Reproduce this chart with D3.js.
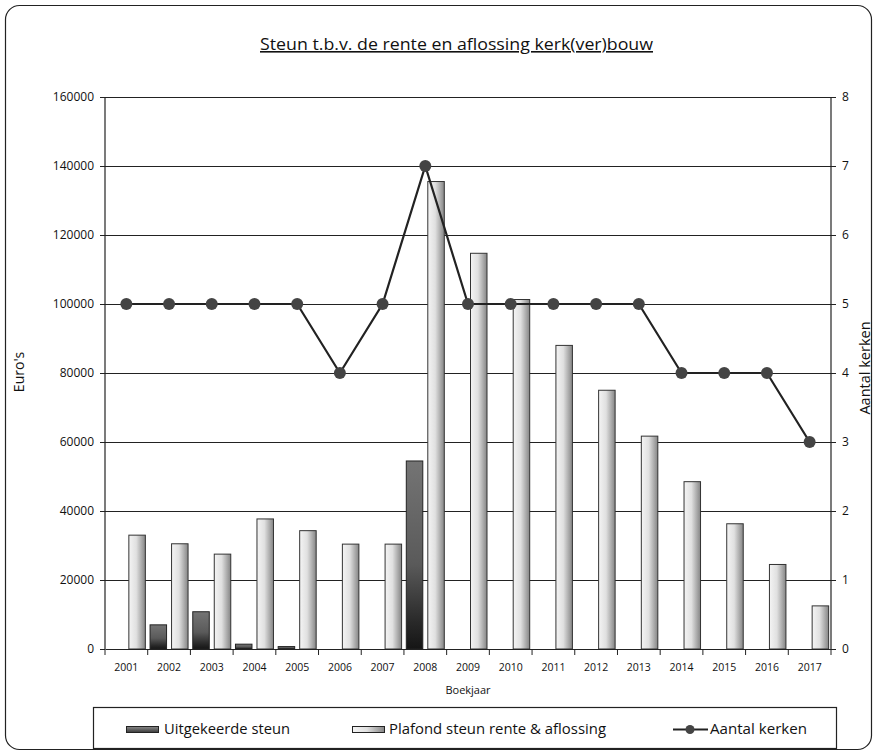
<!DOCTYPE html>
<html>
<head>
<meta charset="utf-8">
<script src="https://cdn.jsdelivr.net/npm/d3@7"></script>
<style>
  body { margin: 0; background: #fff; }
  svg text { font-family: "Open Sans", "DejaVu Sans", sans-serif; fill: #111; }
</style>
</head>
<body>
<svg id="chart" width="878" height="752"></svg>
<script>
// values
const years = ["2001","2002","2003","2004","2005","2006","2007","2008","2009",
               "2010","2011","2012","2013","2014","2015","2016","2017"];
const uitgekeerd = [0, 7000, 10800, 1400, 700, 0, 0, 54500, 0, 0, 0, 0, 0, 0, 0, 0, 0];
const plafond = [33000, 30500, 27500, 37700, 34300, 30400, 30400, 135500, 114700,
                 101300, 88000, 75000, 61700, 48500, 36300, 24500, 12500];
const kerken = [5, 5, 5, 5, 5, 4, 5, 7, 5, 5, 5, 5, 5, 4, 4, 4, 3];
const euroTicks = [0, 20000, 40000, 60000, 80000, 100000, 120000, 140000, 160000];
const kerkTicks = [0, 1, 2, 3, 4, 5, 6, 7, 8];

const svg = d3.select("#chart");
const plotLeft = 105, plotRight = 831, plotTop = 97, plotBottom = 649;

// gradients for the bars
const defs = svg.append("defs");
let g1 = defs.append("linearGradient").attr("id", "gPlafond")
  .attr("x1", 0).attr("x2", 1).attr("y1", 0).attr("y2", 0);
g1.append("stop").attr("offset", "0%").attr("stop-color", "#f4f4f4");
g1.append("stop").attr("offset", "45%").attr("stop-color", "#e0e0e0");
g1.append("stop").attr("offset", "100%").attr("stop-color", "#858585");
let g2 = defs.append("linearGradient").attr("id", "gUit")
  .attr("x1", 0).attr("x2", 0).attr("y1", 0).attr("y2", 1);
g2.append("stop").attr("offset", "0%").attr("stop-color", "#747474");
g2.append("stop").attr("offset", "55%").attr("stop-color", "#5a5a5a");
g2.append("stop").attr("offset", "85%").attr("stop-color", "#2a2a2a");
g2.append("stop").attr("offset", "100%").attr("stop-color", "#151515");
let g3 = defs.append("linearGradient").attr("id", "gUitLeg")
  .attr("x1", 0).attr("x2", 0).attr("y1", 0).attr("y2", 1);
g3.append("stop").attr("offset", "0%").attr("stop-color", "#8a8a8a");
g3.append("stop").attr("offset", "100%").attr("stop-color", "#3a3a3a");

// outer frame
svg.append("rect")
  .attr("x", 5.5).attr("y", 5.5).attr("width", 866).attr("height", 744)
  .attr("rx", 14).attr("fill", "none").attr("stroke", "#222").attr("stroke-width", 1.2);

// scales
const x = d3.scaleBand().domain(years).range([plotLeft, plotRight]).paddingInner(0).paddingOuter(0);
const y = d3.scaleLinear().domain([0, 160000]).range([plotBottom, plotTop]);
const y2 = d3.scaleLinear().domain([0, 8]).range([plotBottom, plotTop]);
const barW = 16.5, barGap = 5;

// gridlines
svg.append("g").selectAll("line")
  .data(euroTicks.slice(1))
  .join("line")
  .attr("x1", plotLeft).attr("x2", plotRight)
  .attr("y1", d => y(d) + 0.5).attr("y2", d => y(d) + 0.5)
  .attr("stroke", "#222").attr("stroke-width", 1);

// bars: uitgekeerde steun
svg.append("g").selectAll("rect")
  .data(years.map((yr, i) => ({yr: yr, v: uitgekeerd[i]})).filter(d => d.v > 0))
  .join("rect")
  .attr("x", d => x(d.yr) + x.bandwidth() / 2 - barW - barGap / 2)
  .attr("y", d => y(d.v))
  .attr("width", barW)
  .attr("height", d => plotBottom - y(d.v))
  .attr("fill", "url(#gUit)")
  .attr("stroke", "#222").attr("stroke-width", 1);

// bars: plafond
svg.append("g").selectAll("rect")
  .data(years.map((yr, i) => ({yr: yr, v: plafond[i]})))
  .join("rect")
  .attr("x", d => x(d.yr) + x.bandwidth() / 2 + barGap / 2)
  .attr("y", d => y(d.v))
  .attr("width", barW)
  .attr("height", d => plotBottom - y(d.v))
  .attr("fill", "url(#gPlafond)")
  .attr("stroke", "#333").attr("stroke-width", 1);

// axes
let yAxis = svg.append("g").attr("transform", "translate(" + plotLeft + ",0)")
  .call(d3.axisLeft(y).tickValues(euroTicks).tickFormat(d3.format("d")).tickSize(5).tickPadding(6));
let yAxis2 = svg.append("g").attr("transform", "translate(" + plotRight + ",0)")
  .call(d3.axisRight(y2).tickValues(kerkTicks).tickSize(5).tickPadding(6));
let xAxis = svg.append("g").attr("transform", "translate(0," + plotBottom + ")")
  .call(d3.axisBottom(x).tickSize(0).tickPadding(15));
// category boundary ticks
xAxis.selectAll(".bound")
  .data(years.concat(["end"]))
  .join("line")
  .attr("class", "bound")
  .attr("x1", (d, i) => plotLeft + i * x.bandwidth())
  .attr("x2", (d, i) => plotLeft + i * x.bandwidth())
  .attr("y1", 0).attr("y2", 6)
  .attr("stroke", "#222");

[yAxis, yAxis2, xAxis].forEach(a => {
  a.select(".domain").attr("stroke", "#222").attr("stroke-width", 1.2);
  a.selectAll(".tick line").attr("stroke", "#222");
  a.selectAll("text").attr("font-size", 12).style("fill", "#111");
});
xAxis.selectAll("text").attr("font-size", 10.5);
yAxis.select(".domain").attr("d", "M0," + plotTop + "V" + plotBottom);
yAxis2.select(".domain").attr("d", "M0," + plotTop + "V" + plotBottom);

// line: aantal kerken
const lineX = i => x(years[i]) + x.bandwidth() / 2;
svg.append("path")
  .datum(kerken)
  .attr("d", d3.line().x((d, i) => lineX(i)).y(d => y2(d)))
  .attr("fill", "none").attr("stroke", "#222").attr("stroke-width", 2.2);
svg.append("g").selectAll("circle")
  .data(kerken)
  .join("circle")
  .attr("cx", (d, i) => lineX(i))
  .attr("cy", d => y2(d))
  .attr("r", 6)
  .attr("fill", "#444");

// title and axis labels
svg.append("text")
  .attr("x", 260).attr("y", 50)
  .attr("font-size", 16)
  .attr("textLength", 393).attr("lengthAdjust", "spacingAndGlyphs")
  .style("text-decoration", "underline")
  .text("Steun t.b.v. de rente en aflossing kerk(ver)bouw");
svg.append("text")
  .attr("transform", "translate(24,372) rotate(-90)")
  .attr("text-anchor", "middle").attr("font-size", 14)
  .text("Euro's");
svg.append("text")
  .attr("transform", "translate(870,368) rotate(-90)")
  .attr("text-anchor", "middle").attr("font-size", 14.5)
  .text("Aantal kerken");
svg.append("text")
  .attr("x", 468).attr("y", 694)
  .attr("text-anchor", "middle").attr("font-size", 11)
  .text("Boekjaar");

// legend
let leg = svg.append("g");
leg.append("rect")
  .attr("x", 93.5).attr("y", 707.5).attr("width", 743).attr("height", 41)
  .attr("fill", "#fff").attr("stroke", "#222").attr("stroke-width", 1.2);
leg.append("rect")
  .attr("x", 126.5).attr("y", 726.5).attr("width", 32).attr("height", 6)
  .attr("fill", "url(#gUitLeg)").attr("stroke", "#222");
leg.append("text").attr("x", 164).attr("y", 734).attr("font-size", 14)
  .attr("textLength", 126).attr("lengthAdjust", "spacingAndGlyphs")
  .text("Uitgekeerde steun");
leg.append("rect")
  .attr("x", 352.5).attr("y", 726.5).attr("width", 32).attr("height", 6)
  .attr("fill", "url(#gPlafond)").attr("stroke", "#222");
leg.append("text").attr("x", 389).attr("y", 734).attr("font-size", 14)
  .attr("textLength", 217).attr("lengthAdjust", "spacingAndGlyphs")
  .text("Plafond steun rente & aflossing");
leg.append("line")
  .attr("x1", 673).attr("x2", 708).attr("y1", 729.5).attr("y2", 729.5)
  .attr("stroke", "#222").attr("stroke-width", 2.2);
leg.append("circle").attr("cx", 690).attr("cy", 729.5).attr("r", 4.5).attr("fill", "#444");
leg.append("text").attr("x", 710).attr("y", 734).attr("font-size", 14)
  .attr("textLength", 97).attr("lengthAdjust", "spacingAndGlyphs")
  .text("Aantal kerken");
</script>
</body>
</html>
